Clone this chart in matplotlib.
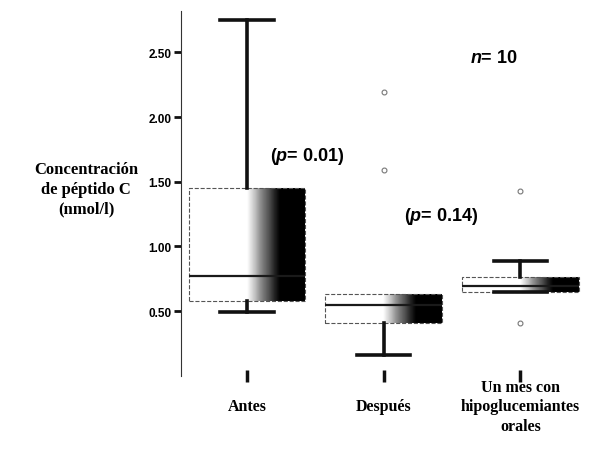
import numpy as np
import matplotlib
matplotlib.use("Agg")
import matplotlib.pyplot as plt

plt.rcParams["mathtext.fontset"] = "custom"
plt.rcParams["mathtext.it"] = "Liberation Sans:bold:italic"
plt.rcParams["mathtext.rm"] = "Liberation Sans:bold"

LABELS = ["Antes", "Después", "Un mes con\nhipoglucemiantes\norales"]
Q1 = [0.58, 0.41, 0.645]
MEDIAN = [0.77, 0.55, 0.69]
Q3 = [1.45, 0.63, 0.76]
WHIS_LO = [0.49, 0.16, 0.645]
WHIS_HI = [2.75, 0.63, 0.885]
FLIERS = [[], [2.19, 1.59], [1.43, 0.41]]
YTICKS = [0.5, 1.0, 1.5, 2.0, 2.5]
YTICK_LABELS = ["0.50", "1.00", "1.50", "2.00", "2.50"]

SERIF = "Liberation Serif"
SANS = "Liberation Sans"
BOX_WIDTH = 0.85

fig = plt.figure(figsize=(5.92, 4.60), dpi=100)
ax = fig.add_axes([0.306, 0.181, 0.691, 0.793])

stats = []
for i, label in enumerate(LABELS):
    stats.append(
        {
            "label": label,
            "q1": Q1[i],
            "med": MEDIAN[i],
            "q3": Q3[i],
            "whislo": WHIS_LO[i],
            "whishi": WHIS_HI[i],
            "fliers": np.array(FLIERS[i]),
        }
    )

positions = list(range(len(LABELS)))
parts = ax.bxp(
    stats,
    positions=positions,
    widths=BOX_WIDTH,
    capwidths=0.39,
    patch_artist=True,
    boxprops=dict(facecolor="none", edgecolor="#555555", linestyle="--", linewidth=0.8),
    medianprops=dict(color="#1a1a1a", linewidth=1.6),
    whiskerprops=dict(color="#111111", linewidth=2.6),
    capprops=dict(color="#111111", linewidth=2.6),
    flierprops=dict(marker="o", markerfacecolor="none", markeredgecolor="#777777",
                    markersize=3.5, markeredgewidth=0.8),
    zorder=3,
)
# the upper cap of "Después" sits on the box edge and isn't drawn in the original
parts["caps"][3].set_visible(False)

# white -> stippled grey -> black fill inside each box
ramp = np.linspace(0, 1, 200)
shade = np.clip((ramp - 0.5) / 0.28, 0, 1) ** 0.7
gradient = shade[np.newaxis, :]
for idx, box in enumerate(parts["boxes"]):
    pos = positions[idx]
    img = ax.imshow(
        gradient,
        extent=[pos - BOX_WIDTH / 2, pos + BOX_WIDTH / 2, Q1[idx], Q3[idx]],
        cmap="Greys",
        vmin=0,
        vmax=1,
        aspect="auto",
        interpolation="bilinear",
        zorder=2,
    )
    img.set_clip_path(box)

ax.set_xlim(-0.48, 2.51)
ax.set_ylim(0, 2.82)

for side in ("top", "right", "bottom"):
    ax.spines[side].set_visible(False)
ax.spines["left"].set_linewidth(0.8)
ax.spines["left"].set_color("#333333")

ax.set_yticks(YTICKS)
ax.set_yticklabels(YTICK_LABELS, fontfamily=SANS, fontweight="bold", fontsize=8.5)
ax.tick_params(axis="y", length=5, width=2, pad=2, color="#111111")

ax.set_xticks(positions)
ax.set_xticklabels(LABELS, fontfamily=SERIF, fontweight="bold", fontsize=11.5,
                   va="center", linespacing=1.3)
ax.tick_params(axis="x", direction="inout", length=8, width=2.5, pad=18, color="#111111")

ax.text(0.17, 1.70, r"($p$= 0.01)", fontsize=13, fontfamily=SANS, fontweight="bold",
        ha="left", va="center")
ax.text(1.15, 1.24, r"($p$= 0.14)", fontsize=13, fontfamily=SANS, fontweight="bold",
        ha="left", va="center")
ax.text(1.63, 2.46, r"$n$= 10", fontsize=13, fontfamily=SANS, fontweight="bold",
        ha="left", va="center")

fig.text(86 / 592, 1 - 190 / 460, "Concentración\nde péptido C\n(nmol/l)",
         fontfamily=SERIF, fontweight="bold", fontsize=12, ha="center", va="center",
         linespacing=1.3)

fig.savefig("out.png", dpi=100)
